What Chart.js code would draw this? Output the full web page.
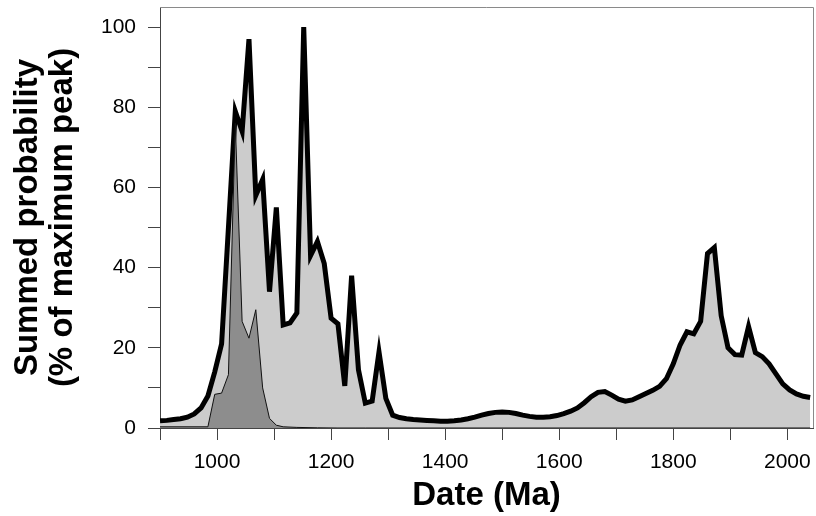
<!DOCTYPE html>
<html>
<head>
<meta charset="utf-8">
<script src="https://cdn.jsdelivr.net/npm/chart.js@4/dist/chart.umd.min.js"></script>
<style>
  body { margin: 0; background: #fff; }
</style>
</head>
<body>
<canvas id="chart" width="816" height="516"></canvas>
<script>
// summed probability curve, all grains (sampled every 12 Ma)
const totalDates = [
  900, 912, 924, 936, 948, 960, 972, 984, 996, 1008,
  1020, 1032, 1044, 1056, 1068, 1080, 1092, 1104, 1116, 1128,
  1140, 1152, 1164, 1176, 1188, 1200, 1212, 1224, 1236, 1248,
  1260, 1272, 1284, 1296, 1308, 1320, 1332, 1344, 1356, 1368,
  1380, 1392, 1404, 1416, 1428, 1440, 1452, 1464, 1476, 1488,
  1500, 1512, 1524, 1536, 1548, 1560, 1572, 1584, 1596, 1608,
  1620, 1632, 1644, 1656, 1668, 1680, 1692, 1704, 1716, 1728,
  1740, 1752, 1764, 1776, 1788, 1800, 1812, 1824, 1836, 1848,
  1860, 1872, 1884, 1896, 1908, 1920, 1932, 1944, 1956, 1968,
  1980, 1992, 2004, 2016, 2028, 2040
];
const totalValues = [
  1.8, 1.9, 2.1, 2.3, 2.7, 3.5, 5.0, 8.0, 14, 21,
  50, 79, 74, 97, 58, 62, 34, 55, 25.7, 26.2,
  28.7, 100, 43, 46.5, 41, 27.4, 26, 10.5, 38, 14.5,
  6.2, 6.7, 19, 7.4, 3.2, 2.6, 2.3, 2.1, 2.0, 1.9,
  1.8, 1.7, 1.7, 1.8, 2.0, 2.3, 2.7, 3.2, 3.6, 3.9,
  4.0, 3.9, 3.6, 3.2, 2.9, 2.7, 2.7, 2.8, 3.1, 3.6,
  4.2, 5.0, 6.3, 7.8, 8.9, 9.1, 8.2, 7.2, 6.7, 7.0,
  7.8, 8.6, 9.4, 10.4, 12.3, 16, 20.7, 24, 23.5, 26.6,
  43.5, 45, 28, 20, 18.3, 18.2, 25.3, 18.8, 17.8, 16,
  13.5, 11, 9.5, 8.5, 7.9, 7.6
];

// summed probability, young population (dark grey)
const youngDates = [
  900, 984, 996, 1008, 1020, 1032, 1044, 1056, 1068, 1080,
  1092, 1104, 1116, 1140, 1176, 1212, 1260, 2040
];
const youngValues = [
  0.3, 0.3, 8.4, 8.7, 13.3, 76, 26.6, 22.4, 29.5, 10,
  2.4, 0.7, 0.3, 0.15, 0.05, 0, 0, 0
];

const xTickLabels = [1000, 1200, 1400, 1600, 1800, 2000];
const yTickLabels = [0, 20, 40, 60, 80, 100];

const toPoints = (xs, ys) => xs.map((x, i) => ({ x: x, y: ys[i] }));

const FONT = "Arial, 'Liberation Sans', sans-serif";

// grey frame on the top and right of the plot
const frame = {
  id: "frame",
  afterDraw(chart) {
    const { ctx, chartArea: a } = chart;
    ctx.save();
    ctx.strokeStyle = "#8a8a8a";
    ctx.lineWidth = 1;
    ctx.beginPath();
    ctx.moveTo(a.left, a.top + 0.5);
    ctx.lineTo(a.right + 0.5, a.top + 0.5);
    ctx.lineTo(a.right + 0.5, a.bottom);
    ctx.stroke();
    ctx.restore();
  }
};

new Chart(document.getElementById("chart"), {
  type: "line",
  data: {
    datasets: [
      {
        data: toPoints(totalDates, totalValues),
        borderColor: "#000",
        borderWidth: 5,
        borderJoinStyle: "miter",
        backgroundColor: "#cccccc",
        fill: "origin",
        pointRadius: 0,
        tension: 0,
        order: 2
      },
      {
        data: toPoints(youngDates, youngValues),
        borderColor: "#111",
        borderWidth: 1,
        backgroundColor: "#8d8d8d",
        fill: "origin",
        pointRadius: 0,
        tension: 0,
        order: 1
      }
    ]
  },
  options: {
    responsive: false,
    animation: false,
    layout: { padding: { top: 7, right: 3, left: 0, bottom: 0 } },
    plugins: {
      legend: { display: false },
      tooltip: { enabled: false }
    },
    scales: {
      x: {
        type: "linear",
        min: 900,
        max: 2045,
        afterFit(scale) {
          scale.height = 88;
          scale.paddingLeft = 0;
          scale.paddingRight = 0;
        },
        border: { display: true, color: "#444", width: 1 },
        grid: { drawOnChartArea: false, drawTicks: true, tickLength: 12, color: "#444" },
        ticks: {
          stepSize: 100,
          includeBounds: false,
          autoSkip: false,
          maxRotation: 0,
          padding: 10,
          color: "#000",
          font: { family: FONT, size: 21 },
          callback: (v) => (xTickLabels.includes(v) ? String(v) : "")
        },
        title: {
          display: true,
          text: "Date (Ma)",
          color: "#000",
          padding: { top: 0, bottom: 0 },
          font: { family: FONT, size: 33, weight: "bold", lineHeight: 1.2 }
        }
      },
      y: {
        min: 0,
        max: 105,
        afterFit(scale) {
          scale.width = 160;
          scale.paddingTop = 0;
          scale.paddingBottom = 0;
        },
        border: { display: true, color: "#444", width: 1 },
        grid: { drawOnChartArea: false, drawTicks: true, tickLength: 12, color: "#444" },
        ticks: {
          stepSize: 10,
          includeBounds: false,
          autoSkip: false,
          padding: 12,
          color: "#000",
          font: { family: FONT, size: 21 },
          callback: (v) => (yTickLabels.includes(v) ? String(v) : "")
        },
        title: {
          display: true,
          text: ["Summed probability", "(% of maximum peak)"],
          color: "#000",
          padding: { top: 10, bottom: 0 },
          font: { family: FONT, size: 33, weight: "bold", lineHeight: 1.06 }
        }
      }
    }
  },
  plugins: [frame]
});
</script>
</body>
</html>
